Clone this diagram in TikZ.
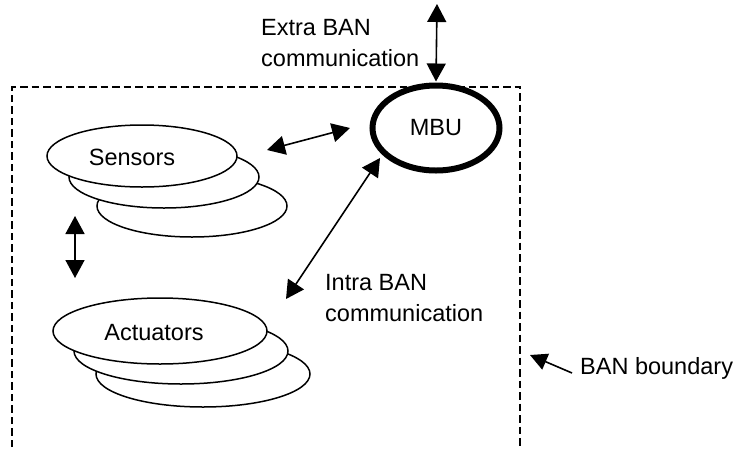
\documentclass[tikz,border=0pt]{standalone}
\usepackage{fontspec}
\setmainfont{Liberation Sans}
\usetikzlibrary{shapes.geometric,arrows.meta}
\begin{document}
\begin{tikzpicture}[x=1pt,y=-1pt,
  lbl/.style={font=\fontsize{23.5}{31}\selectfont, inner sep=0pt, align=left},
  sdisk/.style={ellipse, draw, line width=1.5pt, fill=white, minimum width=190pt, minimum height=62pt, inner sep=0pt},
  adisk/.style={ellipse, draw, line width=1.5pt, fill=white, minimum width=214pt, minimum height=66pt, inner sep=0pt},
  link/.style={line width=1.6pt, {Triangle[length=18pt,width=19pt]}-{Triangle[length=18pt,width=19pt]}},
  onelink/.style={line width=1.6pt, -{Triangle[length=17pt,width=17pt]}},
  boundary/.style={dashed, dash pattern=on 7.5pt off 4pt, line width=2.2pt}]
\useasboundingbox[fill=white] (0,0) rectangle (736,448);
% boundary
\draw[boundary] (12,470) -- (12,87) -- (520,87) -- (520,470);
% sensors stack
\node[sdisk] (s3) at (192,206) {};
\node[sdisk] (s2) at (164,177) {};
\node[sdisk] (s1) at (142,156) {};
\node[lbl] (stxt) at (132,157) {Sensors};
% actuators stack
\node[adisk] (a3) at (203,374) {};
\node[adisk] (a2) at (181,351) {};
\node[adisk] (a1) at (160,331) {};
\node[lbl] (atxt) at (154,333) {Actuators};
% MBU
\node[ellipse, draw, line width=6pt, minimum width=127pt, minimum height=85pt, inner sep=0pt, font=\fontsize{23.5}{26}\selectfont] (mbu) at (436,128) {MBU};
% labels
\node[lbl, anchor=north west] (extra) at (261,19) {Extra BAN\\communication};
\node[lbl, anchor=north west] (intra) at (325,274) {Intra BAN\\communication};
\node[lbl, anchor=base west] (bnd) at (580,374) {BAN boundary};
% coordinates
\coordinate (top) at (437,4);
\coordinate (smL) at (267,150);
\coordinate (smR) at (350,128);
\coordinate (iL) at (286,299);
\coordinate (iR) at (380,158);
\coordinate (vT) at (75,216);
\coordinate (vB) at (75,278);
\coordinate (bT) at (572,373);
\coordinate (bH) at (530,355);
% arrows
\draw[link] (top) -- ([yshift=1pt]mbu.north);
\draw[link] (smL) -- (smR);
\draw[link] (iL) -- (iR);
\draw[link] (vT) -- (vB);
\draw[onelink] (bT) -- (bH);
\end{tikzpicture}
\end{document}
